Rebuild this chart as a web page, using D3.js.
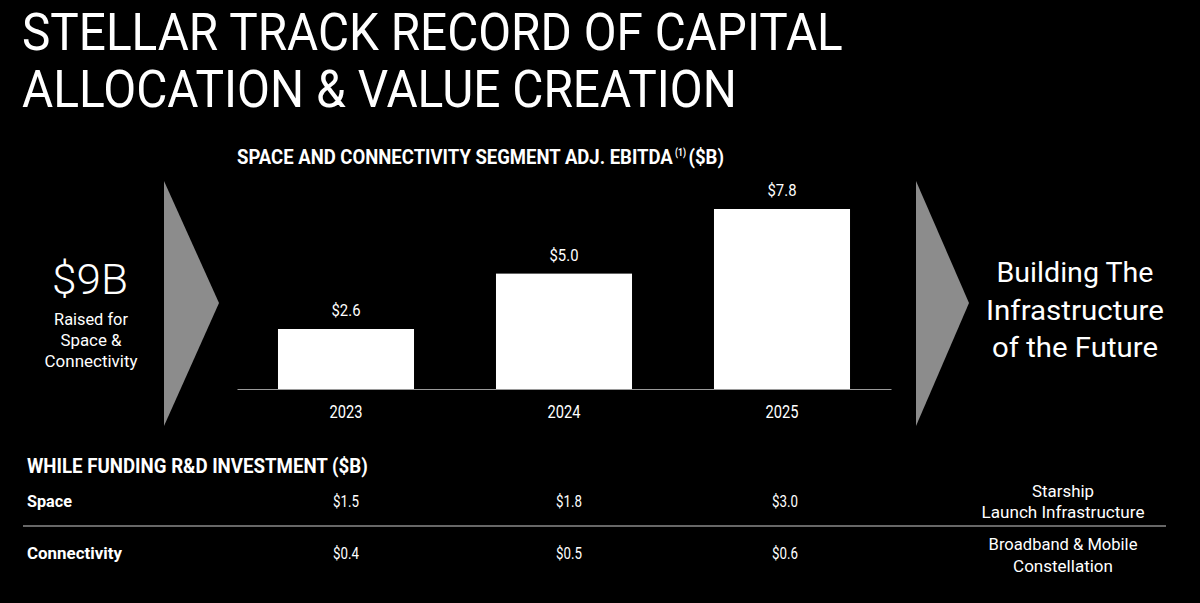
<!DOCTYPE html>
<html><head><meta charset="utf-8">
<script src="https://cdn.jsdelivr.net/npm/d3@7"></script>
<style>
html,body{margin:0;padding:0;background:#000;overflow:hidden}
svg{display:block}
text{font-family:Roboto,"Noto Sans",sans-serif;fill:#fff}
</style></head>
<body>
<svg id="c" width="1200" height="603"></svg>
<script>
// ---- data ----
const titleLines = ["STELLAR TRACK RECORD OF CAPITAL", "ALLOCATION & VALUE CREATION"];
const chartTitle = "SPACE AND CONNECTIVITY SEGMENT ADJ. EBITDA";
const chartFootnote = "(1)";
const chartUnit = "($B)";
const years = ["2023", "2024", "2025"];
const ebitda = [2.6, 5.0, 7.8];
const raisedAmount = "$9B";
const raisedLines = ["Raised for", "Space &", "Connectivity"];
const futureLines = ["Building The", "Infrastructure", "of the Future"];
const tableTitle = "WHILE FUNDING R&D INVESTMENT ($B)";
const rdRows = ["Space", "Connectivity"];
const rdSpace = [1.5, 1.8, 3.0];
const rdConnectivity = [0.4, 0.5, 0.6];
const rdNotes = [["Starship", "Launch Infrastructure"], ["Broadband & Mobile", "Constellation"]];

const svg = d3.select("#c");
svg.append("rect").attr("width",1200).attr("height",603).attr("fill","#000");
const fmt = v => "$" + d3.format(".1f")(v);

// squeeze a text horizontally to a target width, around its anchor point
function fitNode(node, w){
  const s = d3.select(node);
  const n = node.getComputedTextLength();
  const x = +s.attr("x") || 0, y = +s.attr("y") || 0;
  s.attr("x",0).attr("y",0).attr("transform",`translate(${x},${y}) scale(${w/n},1)`);
}
function fit(sel, w){ sel.each(function(){ fitNode(this, w); }); return sel; }

// ---- main title ----
const tW = [821, 715], tY = [50, 107];
titleLines.forEach((t,i)=>{
  fit(svg.append("text").attr("x",22).attr("y",tY[i]).attr("font-size",52).attr("font-weight",400).text(t), tW[i]);
});

// ---- chart subtitle ----
fit(svg.append("text").attr("x",237).attr("y",164).attr("font-size",20).attr("font-weight",700).text(chartTitle), 436);
fit(svg.append("text").attr("x",675).attr("y",156).attr("font-size",11).attr("font-weight",700).text(chartFootnote), 11);
fit(svg.append("text").attr("x",688.5).attr("y",164).attr("font-size",20).attr("font-weight",700).text(chartUnit), 35.5);

// ---- arrows ----
svg.append("path").attr("d", d3.line()([[164,181],[219,303],[164,426]]) + "Z").attr("fill","#8c8c8c");
svg.append("path").attr("d", d3.line()([[916,181],[969,303],[916,426]]) + "Z").attr("fill","#8c8c8c");

// ---- left text ----
fit(svg.append("text").attr("x",90).attr("y",294).attr("text-anchor","middle").attr("font-size",43).attr("font-weight",300).text(raisedAmount), 76);
const rW = [74, 61, 93], rY = [325, 346, 367];
raisedLines.forEach((t,i)=>{
  fit(svg.append("text").attr("x",91).attr("y",rY[i]).attr("text-anchor","middle").attr("font-size",16).text(t), rW[i]);
});

// ---- right text ----
const fW = [157, 178, 166], fY = [282, 320, 357];
futureLines.forEach((t,i)=>{
  fit(svg.append("text").attr("x",1075).attr("y",fY[i]).attr("text-anchor","middle").attr("font-size",28).attr("font-weight",400).text(t), fW[i]);
});

// ---- bar chart ----
const x = d3.scaleBand().domain(years).range([237, 891]).paddingInner(0.376).paddingOuter(0.188);
const y = d3.scaleLinear().domain([0, 7.8]).range([389, 209]);

svg.selectAll("rect.bar").data(years).join("rect").attr("class","bar")
  .attr("x", d=>x(d)).attr("width", x.bandwidth())
  .attr("y", (d,i)=>y(ebitda[i])).attr("height", (d,i)=>y(0)-y(ebitda[i]))
  .attr("fill","#fff");

const vl = svg.selectAll("text.vl").data(years).join("text").attr("class","vl")
  .attr("x", d=>x(d)+x.bandwidth()/2).attr("y", (d,i)=>y(ebitda[i])-13)
  .attr("text-anchor","middle").attr("font-size",17)
  .text((d,i)=>fmt(ebitda[i]));
fit(vl, 29);

const ax = svg.append("g").attr("transform","translate(0,389)")
  .call(d3.axisBottom(x).tickSize(0).tickSizeOuter(0).tickPadding(0));
ax.select(".domain").attr("stroke","#9a9a9a").attr("stroke-width",1.2);
const tt = ax.selectAll(".tick text").attr("y",29).attr("dy",0).attr("font-size",18)
  .attr("font-family","Roboto").attr("fill","#fff");
fit(tt, 33);

// ---- table ----
fit(svg.append("text").attr("x",27).attr("y",473).attr("font-size",20).attr("font-weight",700).text(tableTitle), 341);
const rowY = [507, 559];
const rowW = [45, 95];
const rowVals = [rdSpace, rdConnectivity];
const valX = [346, 569, 785];
rdRows.forEach((r,ri)=>{
  fit(svg.append("text").attr("x",27).attr("y",rowY[ri]).attr("font-size",17).attr("font-weight",700).text(r), rowW[ri]);
  const v = svg.selectAll(null).data(rowVals[ri]).join("text")
    .attr("x",(d,i)=>valX[i]).attr("y",rowY[ri]).attr("text-anchor","middle").attr("font-size",17)
    .text(d=>fmt(d));
  fit(v, 26);
});
svg.append("line").attr("x1",23).attr("x2",1166).attr("y1",526).attr("y2",526).attr("stroke","#8a8a8a").attr("stroke-width",1.5);

const noteW = [[62,163],[149,100]];
const noteY = [[497,518],[550,572]];
rdNotes.forEach((lines,ri)=>{
  lines.forEach((t,li)=>{
    fit(svg.append("text").attr("x",1063).attr("y",noteY[ri][li]).attr("text-anchor","middle").attr("font-size",17).text(t), noteW[ri][li]);
  });
});
</script>
</body></html>
